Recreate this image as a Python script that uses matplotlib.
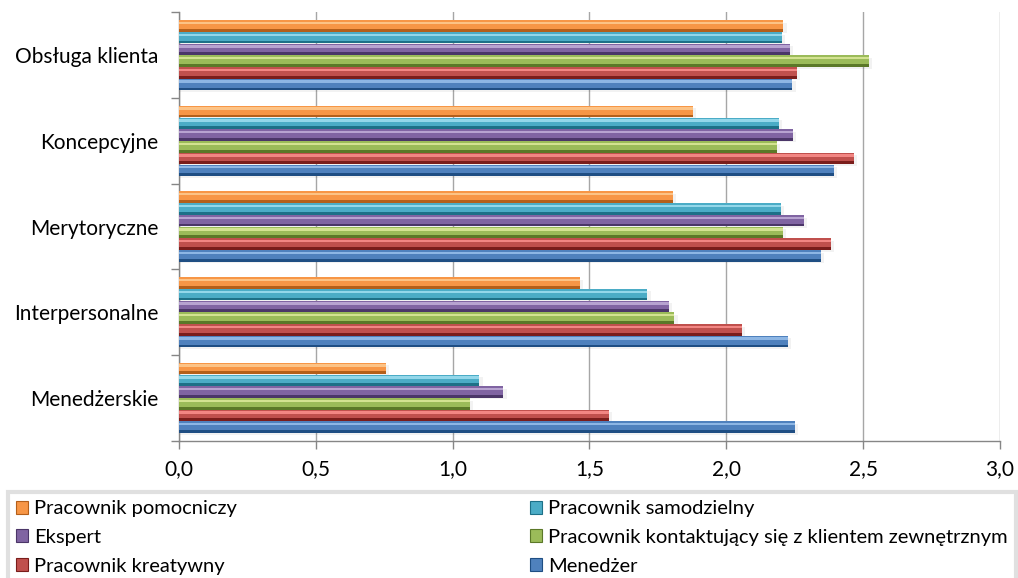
from matplotlib import pyplot as plt
from matplotlib.patches import Patch
import numpy as np

plt.rcParams['font.family'] = ['Lato', 'DejaVu Sans']

categories = ['Menedżerskie', 'Interpersonalne', 'Merytoryczne', 'Koncepcyjne', 'Obsługa klienta']

# series listed bottom-to-top within each category group
menedzer = [2.25, 2.225, 2.345, 2.394, 2.241]
kreatywny = [1.57, 2.057, 2.381, 2.466, 2.258]
kontaktujacy = [1.064, 1.81, 2.206, 2.186, 2.52]
ekspert = [1.185, 1.789, 2.283, 2.242, 2.233]
samodzielny = [1.098, 1.712, 2.199, 2.191, 2.203]
pomocniczy = [0.757, 1.466, 1.804, 1.879, 2.208]

series = [
    ('Menedżer', menedzer, '#4F81BD', '#8DB6E4', '#1F4E83'),
    ('Pracownik kreatywny', kreatywny, '#C0504D', '#F28683', '#7A1D1B'),
    ('Pracownik kontaktujący się z klientem zewnętrznym', kontaktujacy, '#9BBB59', '#D3E291', '#5B7828'),
    ('Ekspert', ekspert, '#8064A2', '#B7A3D0', '#4B3668'),
    ('Pracownik samodzielny', samodzielny, '#4BACC6', '#93D7EA', '#1D7087'),
    ('Pracownik pomocniczy', pomocniczy, '#F79646', '#FCC386', '#B45F1A'),
]

fig = plt.figure(figsize=(10.18, 5.78), dpi=100)
ax = fig.add_axes([0.1758, 0.2375, 0.8065, 0.741])

y = np.arange(len(categories))
h = 0.137
n = len(series)
for i, (name, vals, base, light, dark) in enumerate(series):
    pos = y + (i - (n - 1) / 2) * h
    # soft shadow, main body, then highlight and shade strips for the bevel look
    ax.barh(pos - 0.025, np.array(vals) + 0.012, height=h * 0.9, color='#000000', alpha=0.05, zorder=2)
    ax.barh(pos, vals, height=h * 0.98, color=base, zorder=3)
    ax.barh(pos + h * 0.25, vals, height=h * 0.2, color=light, zorder=4)
    ax.barh(pos - h * 0.37, vals, height=h * 0.24, color=dark, zorder=4)

ax.set_xlim(0, 3.0)
ax.set_ylim(-0.5, len(categories) - 0.5)
ax.set_xticks(np.arange(0, 3.01, 0.5))
ax.set_xticklabels([('%.1f' % v).replace('.', ',') for v in np.arange(0, 3.01, 0.5)])
ax.set_yticks(y)
ax.set_yticklabels(categories)
ax.set_yticks(np.arange(-0.5, len(categories), 1.0), minor=True)
ax.tick_params(axis='y', which='major', length=0, pad=15, labelsize=15)
ax.tick_params(axis='y', which='minor', length=6, color='#868686', width=1)
ax.tick_params(axis='x', length=6, color='#868686', width=1, pad=7, labelsize=15)
ax.grid(axis='x', color='#A6A6A6', linewidth=1, zorder=0)
ax.set_axisbelow(True)
for side in ['top', 'right']:
    ax.spines[side].set_visible(False)
for side in ['left', 'bottom']:
    ax.spines[side].set_color('#868686')
    ax.spines[side].set_linewidth(1)

handles = {name: Patch(facecolor=base, edgecolor=dark, linewidth=0.8) for name, _, base, _, dark in series}
order = ['Pracownik pomocniczy', 'Ekspert', 'Pracownik kreatywny',
         'Pracownik samodzielny', 'Pracownik kontaktujący się z klientem zewnętrznym', 'Menedżer']
leg = fig.legend([handles[k] for k in order], order, ncol=2, loc='lower left',
                 bbox_to_anchor=(0.008, -0.008, 0.99, 0.16), mode='expand',
                 fontsize=14.5, frameon=True, fancybox=False, borderpad=0.4,
                 handlelength=0.6, handleheight=0.6, handletextpad=0.3,
                 labelspacing=0.58, borderaxespad=0)
leg.get_frame().set_edgecolor('#D9D9D9')
leg.get_frame().set_linewidth(3)

plt.savefig('out.png', dpi=100)
